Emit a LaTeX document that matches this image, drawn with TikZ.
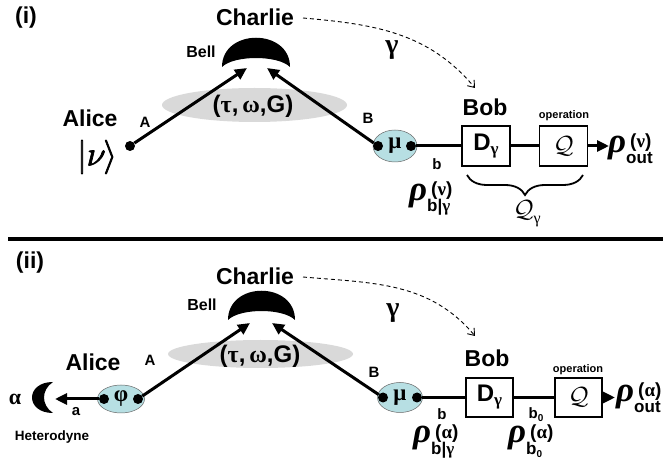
\documentclass[tikz,border=0pt]{standalone}
\usepackage{fontspec}
\setmainfont{Liberation Sans}
\newfontfamily\gkf{Liberation Serif}
\newfontfamily\ketf{Latin Modern Math}[FakeBold=2.2]
\usetikzlibrary{arrows.meta,decorations.pathreplacing,shapes.geometric}

\definecolor{haze}{HTML}{D9D9D9}
\definecolor{modefill}{HTML}{B7DFE3}

% big italic rho; superscript beside its top, subscript below, left aligned
\newcommand\rhotag[2]{%
  {\fontsize{35}{35}\gkf\bfseries\itshape ρ}\kern4pt%
  \raisebox{5pt}{\fontsize{19}{19}\selectfont\bfseries
    \begin{tabular}[t]{@{}l@{}}#1\\[-3pt]\kern-4pt\fontsize{17}{17}\selectfont #2\end{tabular}}}
\newcommand\gk[1]{{\gkf\bfseries #1}}
\newcommand\bnull{b\raisebox{-3pt}{\fontsize{10}{10}\selectfont 0}}

\begin{document}
\begin{tikzpicture}[x=1pt,y=-1pt,
  who/.style={font=\fontsize{23}{23}\selectfont\bfseries, inner sep=0},
  portlbl/.style={font=\fontsize{15}{15}\selectfont\bfseries, inner sep=0},
  smalllbl/.style={font=\fontsize{11}{11}\selectfont\bfseries, inner sep=0},
  dot/.style={circle, fill=black, inner sep=0, minimum size=10pt},
  modebox/.style={ellipse, fill=modefill, draw=black!60, line width=0.5pt,
    inner sep=0, font=\fontsize{23}{23}\selectfont\bfseries},
  opbox/.style={draw, line width=1.3pt, fill=white, minimum width=48pt,
    minimum height=40pt, inner sep=0},
  beam/.style={line width=3pt},
  ray/.style={line width=3pt, -{Triangle[length=12pt,width=11pt]}},
  classical/.style={line width=0.9pt, dash pattern=on 4pt off 3pt,
    -{Straight Barb[length=6pt,width=9pt]}},
  rholbl/.style={inner sep=0, anchor=base west},
  greek/.style={font=\fontsize{28}{28}\gkf\bfseries, inner sep=0}]
\useasboundingbox (0,0) rectangle (670,470);

% ---------------- panel (i) ----------------
\node[who] (ti) at (26,18) {(i)};
\node[who] (charlie1) at (255,17) {Charlie};
\fill (222,67) .. controls (222,28) and (290,28) .. (290,67)
      .. controls (278,55) and (234,55) .. cycle;
\node[font=\fontsize{16}{16}\selectfont\bfseries, inner sep=0] (bell1) at (201,52) {Bell};
\fill[haze] (254.5,105) ellipse [x radius=92.5, y radius=17];
\node[font=\fontsize{24}{24}\selectfont\bfseries, inner sep=0] (par1) at (253,106)
  {(\gk{τ},\,\gk{ω},G)};
\node[who] (alice1) at (90,118) {Alice};
\node[font=\fontsize{34}{34}\ketf, inner sep=0] (ket) at (97,157) {|𝜈⟩};
\node[dot] (a1) at (130,146) {};
\node[portlbl] at (145,122) {A};
\coordinate (bl1) at (247,68);
\coordinate (br1) at (267,68);
\draw[ray] (a1) -- (bl1);

\node[modebox, minimum width=44pt, minimum height=32pt] (mu1) at (395,146) {\gk{μ}};
\node[dot] (mu1l) at (378,146) {};
\node[dot] (mu1r) at (411,146) {};
\draw[ray] (mu1l) -- (br1);
\node[portlbl] at (368,118) {B};

\node[opbox, font=\fontsize{24}{24}\selectfont\bfseries] (D1) at (486,146)
  {D\raisebox{-4pt}{\fontsize{17}{17}\gkf\bfseries γ}};
\node[opbox, font=\fontsize{27}{27}\selectfont] (Q1) at (563.5,146) {$\mathcal{Q}$};
\draw[beam] (mu1r) -- (D1);
\draw[beam] (D1) -- (Q1);
\coordinate (out1) at (609,146);
\draw[ray] (Q1) -- (out1);
\node[portlbl] at (437,164) {b};
\node[smalllbl] at (564,116) {operation};
\node[who] (bob1) at (485,107) {Bob};
\node[rholbl] (rout1) at (608,153) {\rhotag{(\gk{ν})}{out}};
\node[rholbl] (rb1) at (409,201) {\rhotag{(\gk{ν})}{b|\gk{γ}}};
\draw[line width=1.8pt, decorate, decoration={brace, mirror, amplitude=20pt}]
  (467,175) -- (583,175);
\node[font=\fontsize{27}{27}\selectfont, inner sep=0] (Qg) at (527,214)
  {$\mathcal{Q}$\raisebox{-6pt}{\fontsize{16}{16}\gkf γ}};
\node[greek] (g1) at (392,50) {γ};
\coordinate (c1) at (303,18);
\coordinate (bobin1) at (475,88);
\draw[classical] (c1) to[out=-5, in=130] (bobin1);

% separator
\draw[line width=4pt] (8,239) -- (663,239);

% ---------------- panel (ii) ----------------
\node[who] (tii) at (30,263) {(ii)};
\node[who] (charlie2) at (255,276) {Charlie};
\fill (228,320) .. controls (228,281) and (295,281) .. (295,320)
      .. controls (283,308) and (240,308) .. cycle;
\node[font=\fontsize{16}{16}\selectfont\bfseries, inner sep=0] (bell2) at (202,305) {Bell};
\fill[haze] (260.5,354) ellipse [x radius=92.5, y radius=14];
\node[font=\fontsize{24}{24}\selectfont\bfseries, inner sep=0] (par2) at (260,356)
  {(\gk{τ},\,\gk{ω},G)};
\node[who] (alice2) at (93,362) {Alice};
\node[portlbl] at (150,360) {A};

\node[modebox, minimum width=47pt, minimum height=28pt] (phi) at (121,399) {\gk{φ}};
\node[dot] (phil) at (104,399) {};
\node[dot] (phir) at (138,399) {};
\coordinate (het) at (55,399);
\draw[ray] (phil) -- (het);
\fill (53,382) .. controls (25,382) and (25,413) .. (53,413)
      .. controls (41,405) and (41,390) .. cycle;
\node[font=\fontsize{22}{22}\gkf\bfseries, inner sep=0] at (15,399) {α};
\node[portlbl] at (76,412) {a};
\node[font=\fontsize{13.5}{13.5}\selectfont\bfseries, inner sep=0] at (52,437) {Heterodyne};

\coordinate (bl2) at (250,323);
\coordinate (br2) at (272,323);
\draw[ray] (phir) -- (bl2);

\node[modebox, minimum width=45pt, minimum height=30pt] (mu2) at (400,397.5) {\gk{μ}};
\node[dot] (mu2l) at (383,397.5) {};
\node[dot] (mu2r) at (417,397.5) {};
\draw[ray] (mu2l) -- (br2);
\node[portlbl] at (374,372) {B};

\node[opbox, minimum width=47pt, minimum height=39pt, font=\fontsize{24}{24}\selectfont\bfseries]
  (D2) at (489.5,397.5) {D\raisebox{-4pt}{\fontsize{17}{17}\gkf\bfseries γ}};
\node[opbox, minimum width=47pt, minimum height=39pt, font=\fontsize{27}{27}\selectfont]
  (Q2) at (578.5,397.5) {$\mathcal{Q}$};
\draw[beam] (mu2r) -- (D2);
\draw[beam] (D2) -- (Q2);
\coordinate (out2) at (615,397.5);
\draw[ray] (Q2) -- (out2);
\node[portlbl] at (442,414) {b};
\node[portlbl] at (536,415) {\bnull};
\node[smalllbl] at (578,370) {operation};
\node[who] (bob2) at (487,358) {Bob};
\node[rholbl] (rout2) at (616,402) {\rhotag{(\gk{α})}{out}};
\node[rholbl] (rb2) at (413,443) {\rhotag{(\gk{α})}{b|\gk{γ}}};
\node[rholbl] (rb0) at (508,443) {\rhotag{(\gk{α})}{\bnull}};
\node[greek] (g2) at (393,313) {γ};
\coordinate (c2) at (303,277);
\coordinate (bobin2) at (475,336);
\draw[classical] (c2) to[out=-5, in=130] (bobin2);
\end{tikzpicture}
\end{document}
